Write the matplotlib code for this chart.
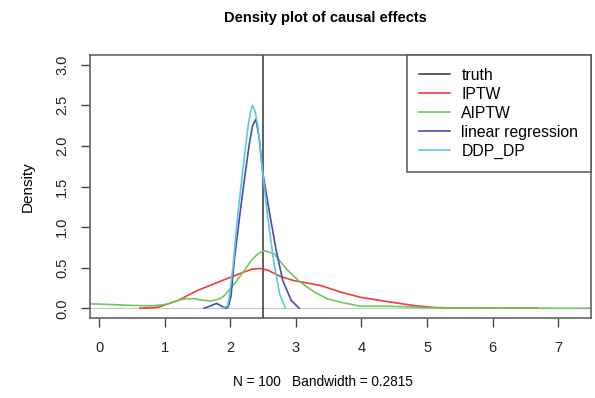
import matplotlib
matplotlib.use("Agg")
import matplotlib.pyplot as plt

plt.rcParams['font.family'] = ['Liberation Sans', 'DejaVu Sans']

# values
truth = 2.5

iptw_x = [0.62, 0.9, 1.2, 1.5, 1.81, 2.06, 2.32, 2.45, 2.57, 2.77, 2.97, 3.18, 3.38, 3.68, 3.98, 4.39, 4.8, 5.1, 5.3, 5.8, 6.2, 6.69]
iptw_y = [0.0, 0.012, 0.095, 0.22, 0.32, 0.40, 0.48, 0.49, 0.47, 0.39, 0.34, 0.31, 0.28, 0.2, 0.136, 0.083, 0.033, 0.01, 0.005, 0.004, 0.005, 0.004]

aiptw_x = [-0.14, 0.2, 0.5, 0.8, 1.0, 1.2, 1.3, 1.45, 1.56, 1.71, 1.85, 1.91, 2.06, 2.2, 2.32, 2.42, 2.52,
           2.67, 2.87, 3.07, 3.28, 3.48, 3.68, 3.98, 4.39, 4.65, 5.0, 5.4, 5.8, 6.1, 6.5, 7.5]
aiptw_y = [0.055, 0.045, 0.035, 0.03, 0.045, 0.095, 0.115, 0.12, 0.1, 0.09, 0.12, 0.157, 0.3, 0.45, 0.59, 0.67, 0.71,
           0.67, 0.47, 0.32, 0.2, 0.116, 0.075, 0.025, 0.025, 0.02, 0.005, 0.002, 0.006, 0.005, 0.001, 0.0]

linreg_x = [1.6, 1.7, 1.79, 1.86, 1.93, 1.97, 2.01, 2.06, 2.14, 2.22, 2.29, 2.34, 2.39, 2.44, 2.49, 2.59, 2.70, 2.80, 2.93, 3.05]
linreg_y = [0.0, 0.03, 0.06, 0.03, 0.0, 0.02, 0.15, 0.59, 1.12, 1.62, 2.03, 2.25, 2.33, 2.1, 1.70, 1.21, 0.71, 0.34, 0.095, 0.0]

ddp_x = [1.88, 1.96, 1.99, 2.04, 2.11, 2.19, 2.27, 2.31, 2.34, 2.38, 2.42, 2.49, 2.57, 2.66, 2.75, 2.84]
ddp_y = [0.0, 0.03, 0.18, 0.51, 1.12, 1.70, 2.24, 2.43, 2.50, 2.42, 2.24, 1.70, 1.12, 0.59, 0.18, 0.0]

labels = ['truth', 'IPTW', 'AIPTW', 'linear regression', 'DDP_DP']
colors = ['#333333', '#f03c3c', '#6acb5a', '#4a4ab8', '#5cc8dc']

fig = plt.figure(figsize=(5.95, 3.98), dpi=100)
ax = fig.add_axes([90 / 595, 1 - 318 / 398, 501 / 595, 263 / 398])

ax.axhline(0, color='#c8c8c8', lw=0.8, zorder=1)
ax.axvline(truth, color=colors[0], lw=1.1, label=labels[0])
ax.plot(iptw_x, iptw_y, color=colors[1], lw=1.2, label=labels[1])
ax.plot(aiptw_x, aiptw_y, color=colors[2], lw=1.2, label=labels[2])
ax.plot(linreg_x, linreg_y, color=colors[3], lw=1.2, label=labels[3])
ax.plot(ddp_x, ddp_y, color=colors[4], lw=1.2, label=labels[4])

ax.set_xlim(-0.14, 7.5)
ax.set_ylim(-0.12, 3.12)
ax.set_xticks(range(0, 8))
ax.set_yticks([0, 0.5, 1, 1.5, 2, 2.5, 3])
ax.set_yticklabels(['0.0', '0.5', '1.0', '1.5', '2.0', '2.5', '3.0'], rotation=90, va='center')
ax.tick_params(direction='out', length=6.5, width=1, color='#444444', labelsize=10.5,
               labelcolor='#222222')
ax.tick_params(axis='x', pad=10)
ax.tick_params(axis='y', pad=8.5)
for s in ax.spines.values():
    s.set_color('#555555')
    s.set_linewidth(1.1)

ax.set_ylabel('Density', fontsize=11, labelpad=15)
fig.text(323 / 595, 1 - 382 / 398, 'N = 100   Bandwidth = 0.2815', ha='center', va='center', fontsize=9.8)
fig.text(325 / 595, 1 - 18 / 398, 'Density plot of causal effects', ha='center', va='center',
         fontsize=10.5, fontweight='bold')

leg = ax.legend(loc='upper right', bbox_to_anchor=(1, 1), borderaxespad=0, fancybox=False,
                framealpha=1, edgecolor='#555555', fontsize=11.3, handlelength=2.0,
                handletextpad=0.7, labelspacing=0.26, borderpad=0.8)
leg.get_frame().set_linewidth(1.1)

fig.savefig('out.png', dpi=100)
